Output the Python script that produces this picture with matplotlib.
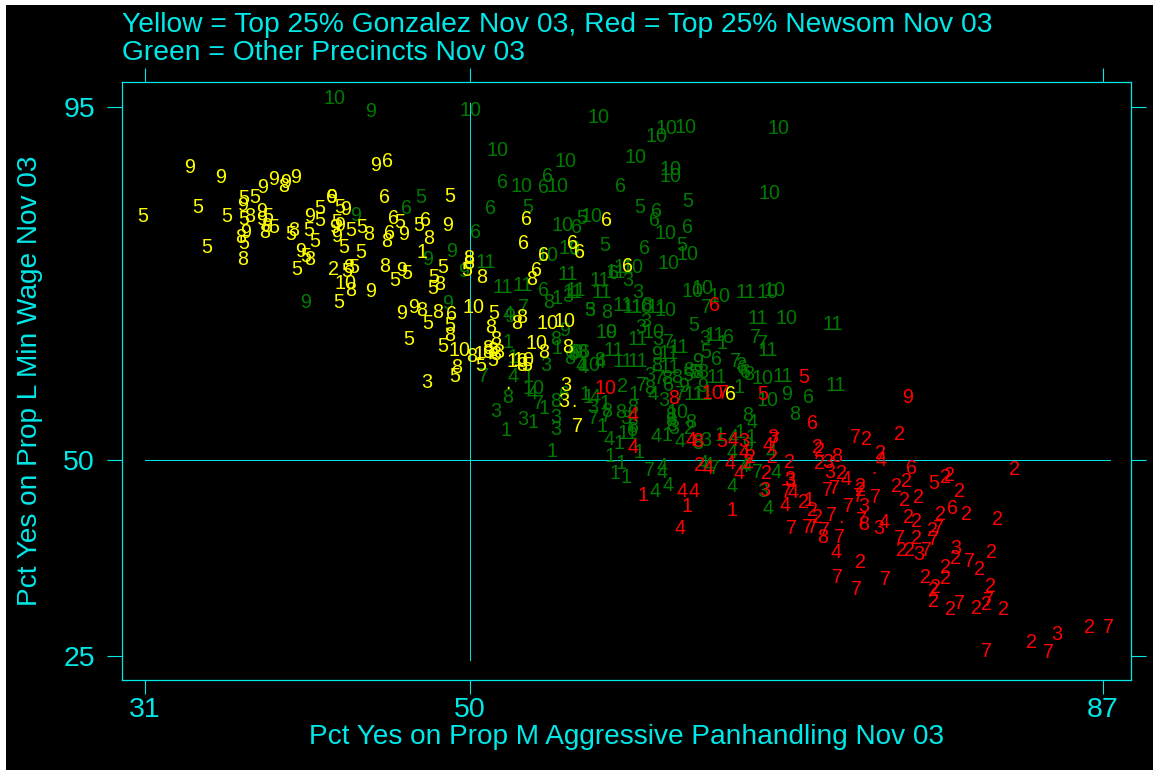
import matplotlib
matplotlib.use("Agg")
import matplotlib.pyplot as plt
from matplotlib.patches import Rectangle

# precinct points as (x, y, label); x = Prop M pct yes, y = Prop L pct yes
yellow_points = [
    (30.9,81.1,"5"),(33.6,87.3,"9"),(35.4,86,"9"),(34.1,82.2,"5"),(35.8,81.1,"5"),(34.6,77.1,"5"),
    (37.9,84.8,"9"),(38.5,85.8,"9"),(39.2,85.4,"9"),(39.1,84.9,"8"),(39.8,86,"9"),(36.8,83.3,"5"),
    (37.4,83.5,"5"),(36.7,82.5,"9"),(37.1,81.1,"8"),(36.8,80.6,"5"),(37.8,81.7,"9"),(38.2,81.1,"5"),
    (37.8,80.6,"9"),(38.1,79.8,"8"),(38,79,"8"),(38.5,79.7,"5"),(36.9,79,"9"),(36.6,78.4,"8"),
    (36.8,77.6,"5"),(36.7,75.6,"8"),(39.5,78.7,"5"),(39.7,79.3,"8"),(40.6,81,"9"),(41.2,82,"5"),
    (41.2,80.5,"5"),(40.6,79.2,"5"),(40.9,77.8,"5"),(41.9,83.5,"6"),(41.9,83.5,"9"),(42.4,82.2,"5"),
    (42.7,81.9,"9"),(42.2,80.3,"5"),(42.4,79.9,"9"),(42.1,79.6,"9"),(43,79.3,"5"),(42.2,78.5,"9"),
    (43.7,79.7,"5"),(44.1,78.8,"8"),(42.6,77.1,"5"),(43.6,76.5,"5"),(40.1,76.6,"9"),(40.4,75.9,"5"),
    (40.6,75.5,"8"),(39.9,74.3,"5"),(42,74.3,"2"),(42.9,74.6,"8"),(43.2,74.6,"5"),(42.8,74,"5"),
    (42.7,72.5,"10"),(43,71.6,"8"),(44.2,71.5,"9"),(42.3,70.1,"5"),(44.5,87.6,"9"),(45.2,88.1,"6"),
    (45,83.4,"6"),(45.5,80.8,"6"),(45.9,80.3,"5"),(45.3,78.9,"6"),(45.1,77.9,"8"),(46.1,78.8,"9"),
    (47,79.9,"5"),(47.4,80.5,"6"),(47.6,78.2,"8"),(48.8,83.6,"5"),(48.7,79.9,"9"),(47.2,76.4,"1"),
    (45,74.7,"8"),(46,74.2,"9"),(46.3,73.8,"5"),(45.6,72.9,"5"),(48.4,74.6,"5"),(47.9,73.2,"5"),
    (48.2,72.4,"8"),(47.8,71.8,"5"),(46,68.7,"9"),(46.7,69.5,"9"),(47.2,69,"8"),(48.1,68.8,"8"),
    (47.5,67.4,"5"),(48.9,68.5,"6"),(48.8,67.2,"5"),(48.8,65.9,"8"),(48.4,64.5,"5"),(46.4,65.4,"5"),
    (49.4,63.9,"10"),(50.2,69.4,"10"),(51.4,68.7,"5"),(51.2,66.9,"8"),(50.1,63.2,"8"),(50.5,63.5,"1"),
    (50.6,62.1,"5"),(49.2,61.8,"8"),(49.1,60.7,"5"),(47.5,59.9,"3"),(51,64.2,"8"),(51.5,65.3,"8"),
    (51.7,63.7,"8"),(51.3,63.9,"8"),(51,63.7,"8"),(51.3,62.7,"5"),(51.5,63.4,"8"),(53,68.2,"8"),
    (52.7,67.4,"8"),(54.5,67.4,"10"),(55.5,67.6,"10"),(53.9,64.9,"10"),(54.3,63.7,"8"),(52.8,62.5,"10"),
    (53.1,62.7,"10"),(53,62.1,"8"),(53.3,62.1,"5"),(55.6,59.5,"3"),(55.5,57.4,"3"),(56.1,57.5,"."),
    (52.2,59.8,"."),(56.3,54.2,"7"),(55.7,64.4,"8"),(65.2,58.3,"6"),(49.9,75.7,"8"),(49.9,75.1,"8"),
    (49.8,74.2,"5"),(50.7,73.3,"8"),(53.3,80.6,"6"),(53.1,77.6,"6"),(54.3,76.1,"6"),(53.9,74.2,"6"),
    (53.6,73,"8"),(56,77.6,"6"),(56.4,76.5,"6"),(58,80.5,"6"),(59.2,74.7,"6"),
]

green_points = [
    (42.1,96.1,"10"),(44.2,94.4,"9"),(47.1,83.5,"5"),(46.3,82.1,"6"),(43.3,81.2,"9"),(47.5,75.5,"9"),
    (48.9,76.6,"9"),(40.4,70.1,"9"),(49.6,74,"9"),(48.7,69.9,"9"),(50,94.6,"10"),(57.5,93.7,"10"),
    (51.6,89.4,"10"),(55.6,88,"10"),(54.5,86.1,"6"),(51.9,85.4,"6"),(53,84.9,"10"),(54.3,84.8,"6"),
    (55.1,84.9,"10"),(58.8,84.9,"6"),(51.2,82.1,"6"),(53.4,82.2,"5"),(55.4,79.9,"10"),(56.2,79.7,"6"),
    (56.5,80.8,"5"),(57.1,81.1,"10"),(50.3,79,"6"),(57.9,77.4,"5"),(54.5,76.1,"10"),(55.8,77,"10"),
    (56.1,76.8,"6"),(50.9,75.2,"11"),(55.7,73.6,"11"),(51.9,72,"11"),(53.1,72.3,"11"),(54.3,71.6,"6"),
    (57.6,72.9,"11"),(58.5,73.9,"11"),(58.4,73.8,"6"),(59,74.6,"11"),(59.2,72.9,"3"),(56,71.4,"11"),
    (57.7,71.3,"11"),(55.7,70.8,"3"),(55.1,70.6,"1"),(54.6,70.1,"8"),(61.5,92.3,"10"),(62.6,92.4,"10"),
    (60.9,91.3,"10"),(68,92.2,"10"),(59.7,88.5,"10"),(61.7,87,"10"),(61.7,86.2,"10"),(67.5,84,"10"),
    (59.9,82.2,"5"),(62.7,82.9,"5"),(60.9,81.7,"6"),(60.8,80.5,"6"),(61.4,78.9,"10"),(62.7,79.6,"6"),
    (60.2,76.9,"6"),(62.4,77.4,"5"),(62.7,76.2,"10"),(61.6,75.1,"10"),(59.5,74.6,"10"),(59.8,71.3,"3"),
    (63,71.5,"10"),(63.6,71.9,"10"),(64.6,70.8,"10"),(63.8,69.5,"7"),(66.1,71.4,"11"),(67.4,71.4,"10"),
    (67.8,71.6,"10"),(68.5,68,"10"),(71.2,67.3,"11"),(66.8,68,"11"),(67.1,64.9,"7"),(67.4,64,"11"),
    (68.3,60.7,"11"),(71.4,59.5,"11"),(68.5,58.3,"9"),(69.8,58,"6"),(67.4,57.6,"10"),(67.1,60.4,"10"),
    (69,55.8,"8"),(67.6,51,"4"),(67.9,48.4,"4"),(67.1,46,"3"),(57,69.1,"5"),(57,69.1,"3"),
    (58,68.8,"8"),(58.9,69.7,"11"),(59.5,69.5,"11"),(60.3,69.7,"8"),(60,69.4,"10"),(60.9,69.4,"11"),
    (61.4,69.1,"10"),(56.2,71.6,"11"),(63.1,67.2,"5"),(60.3,67.6,"3"),(60,66.9,"3"),(60.7,66.3,"10"),
    (58,66.2,"10"),(58.2,66.3,"9"),(59.8,65.3,"11"),(61,65.3,"3"),(61.6,65,"7"),(62.2,64.4,"11"),
    (58.4,64,"11"),(63.7,65.5,"3"),(64.3,65.9,"11"),(65.1,65.6,"6"),(64.7,64.9,"1"),(66.7,65.6,"7"),
    (63.8,63.7,"5"),(60.9,63.5,"9"),(61.6,63.6,"11"),(64.4,62.8,"6"),(63.3,62.6,"9"),(65.5,62.5,"7"),
    (65.8,62.1,"3"),(65.9,61.6,"6"),(66.3,60.9,"8"),(66.1,61.1,"6"),(57.6,62.7,"8"),(57.6,62.4,"4"),
    (58.9,62.5,"11"),(59.8,62.5,"11"),(61.7,61.8,"11"),(60.9,62,"8"),(57,62.1,"10"),(56.6,61.8,"4"),
    (56.7,63.7,"6"),(56.2,63.7,"9"),(56,63.4,"8"),(60.5,60.8,"3"),(61.1,60.4,"7"),(61.5,60.4,"8"),
    (62.1,60.5,"8"),(61.6,59.5,"6"),(62.7,60.8,"5"),(62.8,61.4,"8"),(63.1,61.2,"5"),(63.3,61.2,"8"),
    (63.6,61.1,"8"),(64.4,60.5,"11"),(60,59.5,"7"),(60.5,59.1,"8"),(62.5,59.3,"9"),(58.9,59.3,"2"),
    (59.6,58.3,"1"),(60.7,58.3,"4"),(61.3,57.6,"3"),(56.9,58,"1"),(57.3,58,"4"),(57.9,57.2,"1"),
    (57.2,56.7,"3"),(58,56.2,"8"),(58.8,56.1,"8"),(59.5,56.7,"8"),(57.2,55.3,"7"),(58,55.6,"7"),
    (57.7,54.2,"1"),(62.1,56.1,"10"),(61.7,55.7,"8"),(61.7,55,"8"),(62.3,58.3,"7"),(63.1,58.3,"11"),
    (63.6,59.3,"9"),(63.6,58.3,"11"),(65.7,59.2,"1"),(66.2,55.7,"8"),(66.5,54.8,"4"),(59.1,55.3,"3"),
    (59.5,54.2,"8"),(59.5,53.8,"6"),(59.2,53.4,"11"),(58.1,52.6,"4"),(58.7,52.1,"1"),(60.9,53,"4"),
    (61.5,53.1,"1"),(61.9,54,"3"),(61.8,54.4,"8"),(62.8,54,"2"),(62.9,54.8,"8"),(62.3,52.3,"4"),
    (63.3,52.1,"8"),(63.8,52.5,"3"),(64.6,53.1,"1"),(65.4,52.8,"4"),(65.8,53.5,"1"),(66.4,52.9,"1"),
    (66.2,51.9,"9"),(65.3,51,"4"),(59.9,51,"1"),(58.2,50.4,"1"),(58.8,49.6,"1"),(58.5,48.3,"1"),
    (59.1,47.8,"1"),(60.5,48.7,"7"),(61.2,48.4,"4"),(61.2,49.1,"4"),(60.8,46,"4"),(61.6,46.7,"4"),
    (63.6,49.6,"4"),(63.9,49.3,"4"),(64.3,48.9,"7"),(66,49.1,"4"),(66.2,49.3,"4"),(66.8,48.4,"7"),
    (65.3,46.6,"4"),(67.4,43.8,"4"),(52.3,68.3,"9"),(52.2,68.6,"4"),(53.1,69.4,"7"),(55.5,66.5,"9"),
    (55,65.3,"8"),(55.1,64.2,"1"),(52.2,65,"1"),(54.4,62.1,"3"),(52.5,63.1,"1"),(52.5,60.6,"4"),
    (53.4,60.6,"1"),(50.8,60.6,"7"),(52.2,58,"8"),(53.7,59.1,"10"),(53.6,58.5,"4"),(51.5,56.2,"3"),
    (53.1,55.1,"3"),(53.7,54.8,"1"),(54,57.2,"7"),(54.3,56.6,"1"),(55,57.5,"8"),(55.5,58.3,"6"),
    (55,55.4,"3"),(55,53.9,"3"),(52.1,53.8,"1"),(54.8,51.1,"1"),(56.7,58.3,"1"),(55.8,62.9,"8"),
    (56.5,63.7,"8"),(56.1,63.7,"6"),(56.5,62.1,"4"),
]

red_points = [
    (69.5,60.5,"5"),(67.1,58.3,"5"),(75.6,58,"9"),(70,54.7,"6"),(72.5,52.9,"7"),(73.2,52.6,"2"),
    (75.1,53.3,"2"),(67.7,52.8,"3"),(67.8,52.5,"7"),(67.4,51.8,"4"),(70.3,51.6,"2"),(70.4,51.2,"2"),
    (74,50.8,"2"),(74,49.9,"4"),(67.7,50.3,"2"),(71.4,50.5,"8"),(68.7,49.7,"2"),(70.4,49.6,"2"),
    (70.9,49.7,"3"),(71,48.4,"3"),(75.8,48.9,"6"),(81.8,48.8,"2"),(78,48,"2"),(77.8,47.8,"2"),
    (77.1,47,"5"),(67.3,48.3,"2"),(71.7,48.3,"2"),(72,47.5,"4"),(75.5,47.3,"2"),(74.9,46.6,"2"),
    (78.6,46,"2"),(68.7,47.5,"3"),(68.7,47.2,"3"),(70.9,46.1,"7"),(71.3,46.4,"7"),(72.8,46.6,"2"),
    (72.8,46.1,"2"),(73.7,45.2,"7"),(68.5,45.9,"7"),(68.9,45.9,"4"),(73.6,48.9,"."),(76.2,45.2,"2"),
    (75.4,44.8,"2"),(67.2,46.1,"3"),(69.5,44.6,"2"),(69.8,44.8,"1"),(72.7,45.4,"7"),(78.2,43.8,"6"),
    (77.5,43,"2"),(79,43,"2"),(80.8,42.4,"2"),(72.1,44,"7"),(73,44,"3"),(68.4,44.2,"4"),
    (70,43.6,"2"),(70.3,42.7,"2"),(71.1,42.9,"7"),(71.7,42.7,"."),(72.9,42.3,"7"),(73,41.8,"8"),
    (73.9,41.2,"3"),(74.2,42,"4"),(75.6,42.7,"2"),(76.1,42.2,"2"),(68.8,41.3,"7"),(69.7,41.4,"7"),
    (70,41.4,"7"),(70.7,41,"7"),(70.6,40.1,"8"),(71.6,40.1,"7"),(75.1,40,"7"),(76.1,40,"2"),
    (77,41,"2"),(77.4,41.3,"7"),(77.1,39.8,"7"),(76.7,38.5,"7"),(75.2,38.5,"2"),(75.7,38.4,"2"),
    (76.2,37.9,"3"),(71.4,38.2,"4"),(72.8,36.9,"2"),(78.4,38.7,"3"),(78.4,37.4,"2"),(79.2,37,"7"),
    (80.5,38.2,"2"),(79.8,36,"2"),(77.8,36.3,"2"),(71.5,35,"7"),(74.3,34.8,"7"),(72.6,33.5,"7"),
    (76.6,35,"2"),(77.8,34.9,"2"),(77.2,33.7,"2"),(77.1,33.4,"2"),(77.1,32,"2"),(80.4,33.9,"2"),
    (80.3,32.1,"7"),(80.2,31.6,"2"),(78.1,30.9,"2"),(78.6,31.7,"7"),(79.6,31,"2"),(81.2,30.9,"2"),
    (84.3,27.8,"3"),(86.2,28.6,"2"),(87.3,28.6,"7"),(82.8,26.7,"2"),(83.8,25.4,"7"),(80.2,25.6,"7"),
    (59.5,51.6,"4"),(63.3,52.3,"8"),(62.9,52.5,"4"),(64.7,52.3,"5"),(66,52.4,"3"),(65.4,52.5,"4"),
    (66,51,"4"),(66.4,50.3,"2"),(65.2,49.6,"4"),(65.7,48.3,"4"),(63.4,49.3,"2"),(63.9,48.9,"4"),
    (60.1,45.5,"1"),(62.4,46,"4"),(63.1,46,"4"),(62.7,44,"1"),(65.3,43.6,"1"),(62.3,41.3,"4"),
    (57.9,59.1,"10"),(64.3,69.7,"6"),(61.9,57.8,"8"),(59.5,55.7,"4"),(64.2,58.5,"10"),(64.8,58.5,"7"),
    (66.3,49.7,"2"),
]

x_ticks = [31, 50, 87]
y_ticks = [25, 50, 95]
title_lines = ["Yellow = Top 25% Gonzalez Nov 03, Red = Top 25% Newsom Nov 03",
               "Green = Other Precincts Nov 03"]
x_title = "Pct Yes on Prop M Aggressive Panhandling Nov 03"
y_title = "Pct Yes on Prop L Min Wage Nov 03"

CYAN = "#00e8e8"
W, H = 1153, 770
plt.rcParams["font.family"] = ["Liberation Sans", "DejaVu Sans"]

fig = plt.figure(figsize=(W / 100, H / 100), dpi=100, facecolor="white")
# thin white strip stays on the left and top
fig.add_artist(Rectangle((6 / W, 0), 1, 1 - 5 / H, transform=fig.transFigure,
                         facecolor="black", edgecolor="none", zorder=-1))

ax = fig.add_axes([122 / W, 1 - 680 / H, (1131 - 122) / W, (680 - 82) / H], facecolor="black")
ax.set_xlim(29.66, 88.63)
ax.set_ylim(21.94, 98.19)
for s in ax.spines.values():
    s.set_color(CYAN)
    s.set_linewidth(0.9)

ax.set_xticks(x_ticks)
ax.set_yticks(y_ticks)
ax.tick_params(axis="x", top=True, bottom=True, length=10, width=0.8, color=CYAN, labelcolor=CYAN, labelsize=20.5, pad=2)
ax.tick_params(axis="y", left=True, right=True, length=10.5, width=0.8, color=CYAN, labelcolor=CYAN, labelsize=20.5, pad=9)

ax.plot([31, 87.4], [50, 50], color=CYAN, lw=0.7, zorder=1)
ax.plot([50, 50], [24.5, 95.5], color=CYAN, lw=0.7, zorder=1)

for points, col in [(green_points, "#007a00"), (red_points, "#ff0000"), (yellow_points, "#ffff00")]:
    for x, y, lab in points:
        ax.text(x, y, lab, color=col, fontsize=14.2, ha="center", va="center", zorder=2)

fig.text(122 / W, 1 - 24.5 / H, title_lines[0], color=CYAN, fontsize=20.3, va="center", ha="left")
fig.text(122 / W, 1 - 53.5 / H, title_lines[1], color=CYAN, fontsize=20.3, va="center", ha="left")
fig.text(627 / W, 1 - 737 / H, x_title, color=CYAN, fontsize=20.2, va="center", ha="center")
fig.text(30 / W, 1 - 381 / H, y_title, color=CYAN, fontsize=20.2, va="center", ha="center", rotation=90)

fig.savefig("out.png", dpi=100, facecolor=fig.get_facecolor())
